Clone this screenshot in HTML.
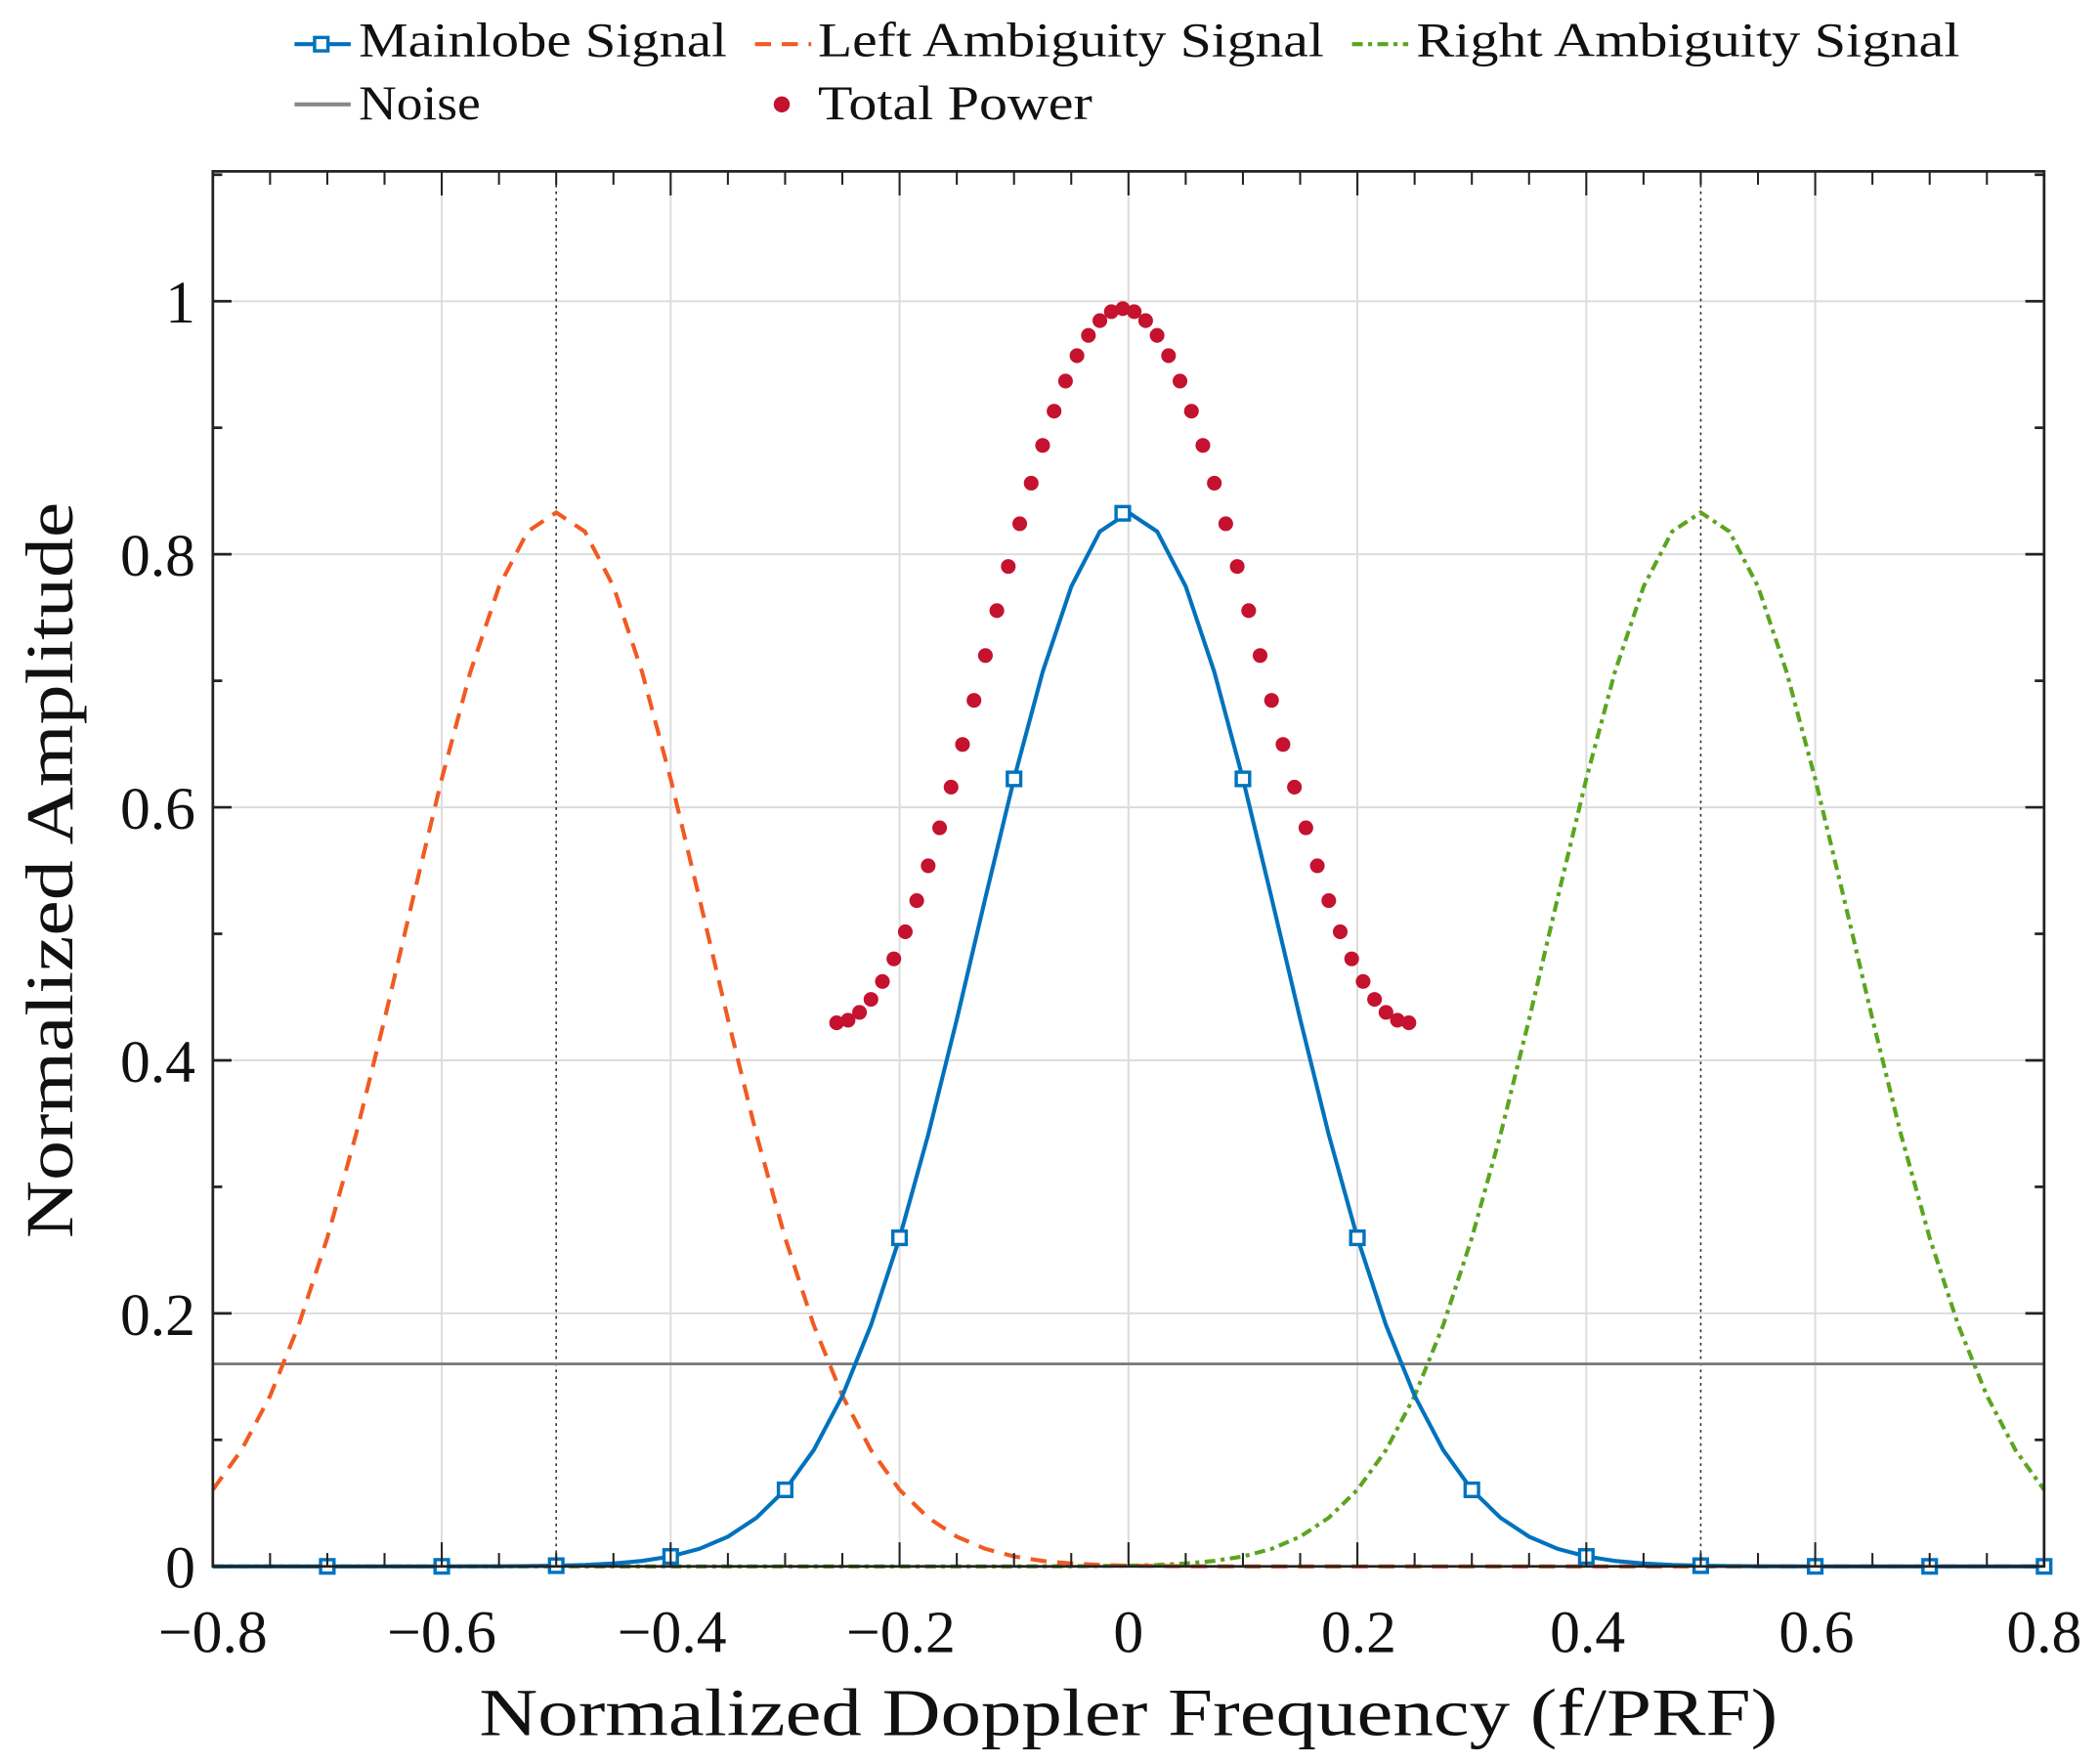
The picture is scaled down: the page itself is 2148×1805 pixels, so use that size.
<!DOCTYPE html>
<html><head><meta charset="utf-8"><style>
html,body{margin:0;padding:0;background:#fff;}
svg{display:block;}
text{font-family:"Liberation Serif",serif;fill:#111;}
</style></head><body>
<svg id="s" width="2148" height="1805" viewBox="0 0 1568 1317.6" preserveAspectRatio="none" xmlns="http://www.w3.org/2000/svg">
<rect width="1568" height="1318" fill="#fff"/>
<g id="grid"></g>
<g id="series"></g>
<rect x="159" y="128" width="1368" height="1042" fill="none" stroke="#222" stroke-width="2"/>
<g id="ticks"></g>
<g font-size="45" text-anchor="middle">
<text x="159" y="1234">−0.8</text><text x="330" y="1234">−0.6</text><text x="502" y="1234">−0.4</text><text x="673" y="1234">−0.2</text><text x="843" y="1234">0</text><text x="1015" y="1234">0.2</text><text x="1186" y="1234">0.4</text><text x="1357" y="1234">0.6</text><text x="1527" y="1234">0.8</text>
</g>
<g font-size="45" text-anchor="end">
<text x="146" y="1186">0</text><text x="146" y="997">0.2</text><text x="146" y="808">0.4</text><text x="146" y="619">0.6</text><text x="146" y="430">0.8</text><text x="146" y="241">1</text>
</g>
<text x="358" y="1296" font-size="50" textLength="970" lengthAdjust="spacingAndGlyphs">Normalized Doppler Frequency (f/PRF)</text>
<text transform="translate(54,925) rotate(-90)" font-size="50" textLength="550" lengthAdjust="spacingAndGlyphs">Normalized Amplitude</text>
<!-- legend -->
<g font-size="36">
<line x1="220" y1="33" x2="262" y2="33" stroke="#0072BD" stroke-width="3"/><rect x="235" y="28" width="10" height="10" fill="#fff" stroke="#0072BD" stroke-width="2.5"/>
<text x="268" y="42" textLength="275" lengthAdjust="spacingAndGlyphs">Mainlobe Signal</text>
<line x1="564" y1="33" x2="606" y2="33" stroke="#F15A22" stroke-width="3" stroke-dasharray="12,8"/>
<text x="611" y="42" textLength="378" lengthAdjust="spacingAndGlyphs">Left Ambiguity Signal</text>
<line x1="1010" y1="33" x2="1052" y2="33" stroke="#5AA51E" stroke-width="3" stroke-dasharray="8,4,3,4"/>
<text x="1058" y="42" textLength="406" lengthAdjust="spacingAndGlyphs">Right Ambiguity Signal</text>
<line x1="220" y1="78" x2="262" y2="78" stroke="#888" stroke-width="3"/>
<text x="268" y="89" textLength="91" lengthAdjust="spacingAndGlyphs">Noise</text>
<circle cx="584" cy="78" r="6" fill="#C4122F"/>
<text x="611" y="89" textLength="205" lengthAdjust="spacingAndGlyphs">Total Power</text>
</g>
</svg>
<script>
const X=v=>843+v*855, Y=v=>1170-v*945, ns="http://www.w3.org/2000/svg";
function el(p,t,a){const e=document.createElementNS(ns,t);for(const k in a)e.setAttribute(k,a[k]);document.getElementById(p).appendChild(e);return e;}
[-0.6,-0.4,-0.2,0,0.2,0.4,0.6].forEach(v=>el("grid","line",{x1:X(v),x2:X(v),y1:128,y2:1170,stroke:"#ddd","stroke-width":1.5}));
[0.2,0.4,0.6,0.8,1].forEach(v=>el("grid","line",{x1:159,x2:1527,y1:Y(v),y2:Y(v),stroke:"#ddd","stroke-width":1.5}));
[-0.5,0.5].forEach(v=>el("grid","line",{x1:X(v),x2:X(v),y1:128,y2:1170,stroke:"#333","stroke-width":1.2,"stroke-dasharray":"2,3"}));
for(let i=-16;i<=16;i++){const v=i*0.05,maj=(i%4==0),L=maj?18:10;
 el("ticks","line",{x1:X(v),x2:X(v),y1:128,y2:128+L,stroke:"#222","stroke-width":1.5});
 el("ticks","line",{x1:X(v),x2:X(v),y1:1170,y2:1170-L,stroke:"#222","stroke-width":1.5});}
for(let i=0;i<=11;i++){const v=i*0.1,L=(i%2==0)?14:7;
 el("ticks","line",{x1:159,x2:159+L,y1:Y(v),y2:Y(v),stroke:"#222","stroke-width":2});
 el("ticks","line",{x1:1527,x2:1527-L,y1:Y(v),y2:Y(v),stroke:"#222","stroke-width":2});}
const A=0.833,sg=0.131,s2=2*sg*sg,g=(f,c)=>A*Math.exp(-(f-c)*(f-c)/s2),off=-0.005;
function path(c,st){let d="";for(let f=-0.8;f<=0.8001;f+=0.025){d+=(d?"L":"M")+X(f).toFixed(1)+","+Y(g(f,c)).toFixed(1);}el("series","path",Object.assign({d:d,fill:"none","stroke-width":3},st));}
el("series","line",{x1:159,x2:1527,y1:Y(0.16),y2:Y(0.16),stroke:"#777","stroke-width":2});
path(0.5,{stroke:"#5AA51E","stroke-dasharray":"8,4,3,4"});
path(-0.5,{stroke:"#F15A22","stroke-dasharray":"12,8"});
path(0,{stroke:"#0072BD"});
for(let k=-7;k<=8;k++){const f=k*0.1+(k==0?off:0);el("series","rect",{x:X(f)-5,y:Y(g(f,0))-5,width:10,height:10,fill:"#fff",stroke:"#0072BD","stroke-width":2.5});}
for(let k=-25;k<=25;k++){const f=k*0.01;const t=g(f,0)+g(f,-0.5)+g(f,0.5)+0.16;el("series","circle",{cx:X(f+off),cy:Y(t),r:5.5,fill:"#C4122F"});}
</script>
</body></html>
